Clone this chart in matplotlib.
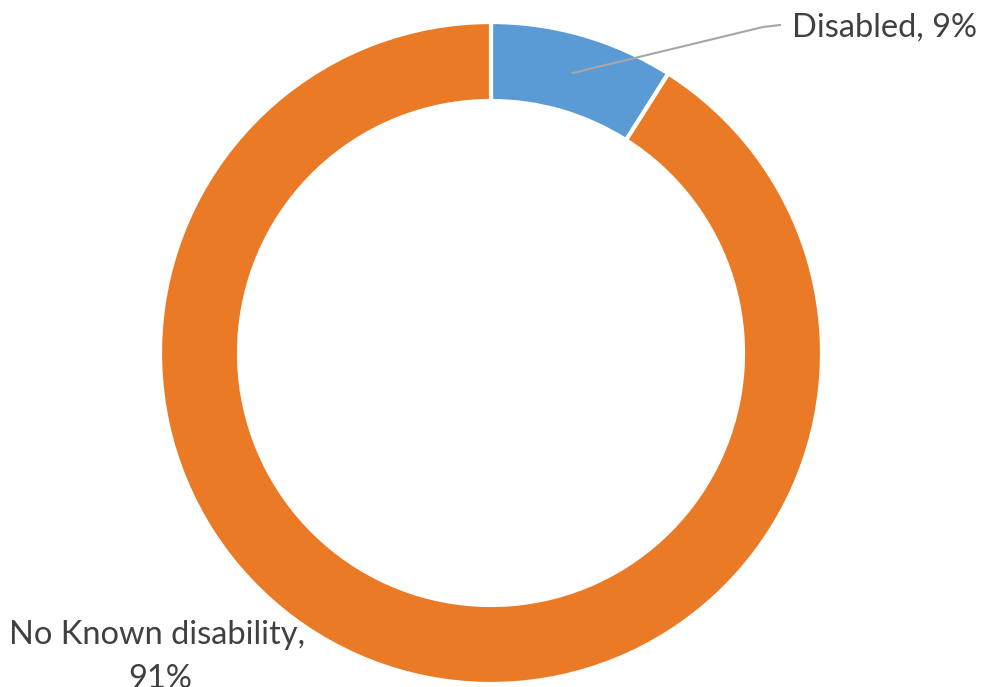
import numpy
import matplotlib
matplotlib.use("Agg")
import matplotlib.pyplot

labels = ["Disabled", "No Known disability"]
values = [9, 91]
colors = ["#5B9BD5", "#EB7A26"]


def main():
    fig = matplotlib.pyplot.figure(figsize=(9.82, 6.87), dpi=100)
    ax = fig.add_axes([0, 0, 1, 1])

    cx, cy, radius, ring = 491, 334, 331, 79
    wedges, _ = ax.pie(
        values,
        colors=colors,
        startangle=90,
        counterclock=False,
        center=(cx, cy),
        radius=radius,
        wedgeprops=dict(width=ring, edgecolor="white", linewidth=3),
        frame=True,
    )
    ax.set_xlim(0, 982)
    ax.set_ylim(0, 687)
    ax.set_aspect("equal")
    ax.axis("off")

    font = dict(family="Lato", color="#404040", fontsize=23.5)

    # leader line for the small slice
    w = wedges[0]
    mid = numpy.deg2rad((w.theta1 + w.theta2) / 2)
    r_mid = radius - ring / 2
    x0 = cx + r_mid * numpy.cos(mid)
    y0 = cy + r_mid * numpy.sin(mid)
    ax.plot([x0, 763, 780], [y0, 660, 662], color="#A6A6A6", linewidth=1.5)
    ax.text(792, 659, f"{labels[0]}, {values[0]}%", ha="left", va="center", **font)

    ax.text(157, 52, f"{labels[1]},", ha="center", va="center", **font)
    ax.text(160, 8, f"{values[1]}%", ha="center", va="center", **font)

    fig.savefig("out.png", dpi=100)
    matplotlib.pyplot.close(fig)


if __name__ == "__main__":
    main()
